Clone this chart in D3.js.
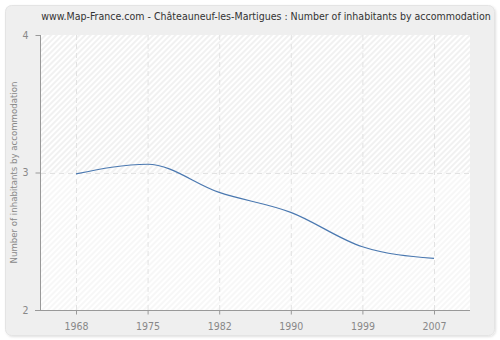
<!DOCTYPE html>
<html>
<head>
<meta charset="utf-8">
<script src="https://cdn.jsdelivr.net/npm/d3@7/dist/d3.min.js"></script>
<style>
  html, body { margin: 0; padding: 0; background: #ffffff; }
  svg { display: block; font-family: "DejaVu Sans Condensed", "DejaVu Sans", Verdana, sans-serif; }
</style>
</head>
<body>
<svg id="chart" width="500" height="340"></svg>
<script>
const years = ["1968", "1975", "1982", "1990", "1999", "2007"];
const inhabitants = [2.99, 3.06, 2.855, 2.71, 2.46, 2.375];
const yTicks = [2, 3, 4];
const title = "www.Map-France.com - Châteauneuf-les-Martigues : Number of inhabitants by accommodation";
const yLabel = "Number of inhabitants by accommodation";

const FONT = "\"DejaVu Sans Condensed\", \"DejaVu Sans\", Verdana, sans-serif";
const svg = d3.select("#chart");
const m = { left: 41, right: 470, top: 35, bottom: 310 };

const defs = svg.append("defs");
function hatch(id, stroke) {
  const p = defs.append("pattern")
    .attr("id", id).attr("patternUnits", "userSpaceOnUse")
    .attr("width", 4).attr("height", 4)
    .attr("patternTransform", "rotate(45)");
  p.append("rect").attr("width", 4).attr("height", 4).attr("fill", "#ffffff");
  p.append("line").attr("x1", 1).attr("y1", 0).attr("x2", 1).attr("y2", 4)
    .attr("stroke", stroke).attr("stroke-width", 1.4);
}
hatch("hatchTop", "#ebebeb");
hatch("hatchBottom", "#f4f4f4");

const shadow = defs.append("filter").attr("id", "shadow")
  .attr("x", "-5%").attr("y", "-5%").attr("width", "110%").attr("height", "110%");
shadow.append("feDropShadow").attr("dx", 1).attr("dy", 1).attr("stdDeviation", 1.2)
  .attr("flood-color", "#000").attr("flood-opacity", 0.12);

// outer panel
svg.append("rect")
  .attr("x", 5.5).attr("y", 5.5).attr("width", 489).attr("height", 330)
  .attr("rx", 6).attr("ry", 6)
  .attr("fill", "#efefef").attr("stroke", "#e4e4e4")
  .attr("filter", "url(#shadow)");

const x = d3.scalePoint().domain(years).range([76, 434]);
const y = d3.scaleLinear().domain([2, 4]).range([m.bottom, m.top]);

// plot background, upper and lower bands
svg.append("rect")
  .attr("x", m.left).attr("y", m.top)
  .attr("width", m.right - m.left).attr("height", y(3) - m.top)
  .attr("fill", "url(#hatchTop)");
svg.append("rect")
  .attr("x", m.left).attr("y", y(3))
  .attr("width", m.right - m.left).attr("height", m.bottom - y(3))
  .attr("fill", "url(#hatchBottom)");

// dashed grid
const grid = svg.append("g").attr("stroke", "#e2e2e2").attr("stroke-dasharray", "5,4");
grid.selectAll("line.v").data(years).join("line")
  .attr("x1", d => x(d) + 0.5).attr("x2", d => x(d) + 0.5)
  .attr("y1", m.top).attr("y2", m.bottom);
grid.selectAll("line.h").data(yTicks.filter(t => t > 2 && t < 4)).join("line")
  .attr("x1", m.left).attr("x2", m.right)
  .attr("y1", d => Math.round(y(d)) + 0.5).attr("y2", d => Math.round(y(d)) + 0.5);

// axes
const yAxis = svg.append("g")
  .attr("transform", `translate(${m.left - 0.5},0)`)
  .call(d3.axisLeft(y).tickValues(yTicks).tickFormat(d3.format("d")).tickSize(5).tickPadding(7));
const xAxis = svg.append("g")
  .attr("transform", `translate(0,${m.bottom + 0.5})`)
  .call(d3.axisBottom(x).tickSize(4).tickPadding(8).tickSizeOuter(0));
xAxis.select(".domain").attr("d", `M35,0H${m.right}`);
[yAxis, xAxis].forEach(g => {
  g.select(".domain").attr("stroke", "#999");
  g.selectAll(".tick line").attr("stroke", "#999");
  g.selectAll(".tick text").attr("fill", "#888").attr("font-size", 10.5)
    .attr("font-family", FONT);
});
yAxis.select(".domain").attr("d", `M0,${m.bottom}V${m.top}`);

// series line
const line = d3.line()
  .x((d, i) => x(years[i]))
  .y(d => y(d))
  .curve(d3.curveMonotoneX);
svg.append("path")
  .datum(inhabitants)
  .attr("d", line)
  .attr("fill", "none")
  .attr("stroke", "#4a78b0")
  .attr("stroke-width", 1.2);

// size a text's font so its natural width fits the given span
function fitText(sel, baseSize, width) {
  sel.attr("font-size", baseSize);
  const w = sel.node().getComputedTextLength();
  if (w > width) sel.attr("font-size", (baseSize * width / w).toFixed(2));
  return sel;
}

// title
const titleText = svg.append("text")
  .attr("x", 266).attr("y", 20)
  .attr("text-anchor", "middle")
  .attr("font-family", FONT)
  .attr("fill", "#333")
  .text(title);
fitText(titleText, 11, 450);

// y axis label
const yLabelText = svg.append("text")
  .attr("transform", `translate(17,${(m.top + m.bottom) / 2}) rotate(-90)`)
  .attr("text-anchor", "middle")
  .attr("font-family", FONT)
  .attr("fill", "#888")
  .text(yLabel);
fitText(yLabelText, 10.5, 182);
</script>
</body>
</html>
